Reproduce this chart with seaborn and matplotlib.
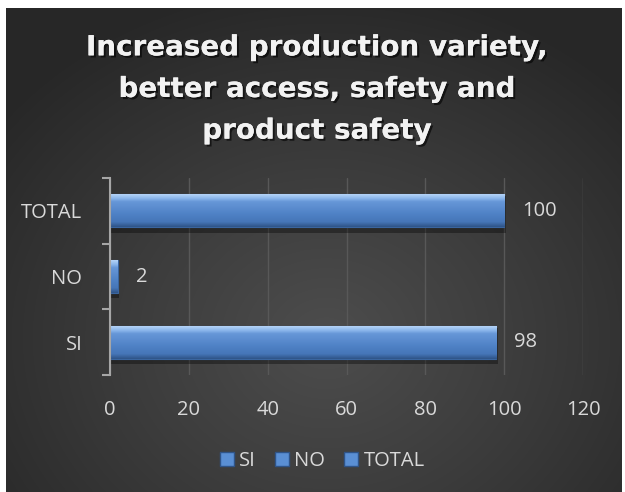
import numpy as np
import pandas as pd
import matplotlib
matplotlib.use("Agg")
import matplotlib.pyplot as plt
import matplotlib.patheffects as pe
from matplotlib.colors import LinearSegmentedColormap
import seaborn as sns

# Survey answers
categories = ["TOTAL", "NO", "SI"]        # top to bottom
legend_order = ["SI", "NO", "TOTAL"]
values = [100, 2, 98]
x_ticks = [0, 20, 40, 60, 80, 100, 120]
title = "Increased production variety,\nbetter access, safety and\nproduct safety"

df = pd.DataFrame({"respuesta": categories, "valor": values})

sns.set_theme(style="white")
plt.rcParams["font.family"] = ["Open Sans", "DejaVu Sans"]

W, H = 625, 492
fig = plt.figure(figsize=(W / 100, H / 100), dpi=100)
fig.patch.set_facecolor("white")

# Dark panel with a soft radial glow
bg = fig.add_axes([6 / W, 0, (622 - 6) / W, (492 - 8) / H])
bg.set_axis_off()
gy, gx = np.mgrid[0:484, 0:616]
cx, cy = 320, 330
r = np.sqrt(((gx - cx) / 420) ** 2 + ((gy - cy) / 360) ** 2)
r = np.clip(r, 0, 1)
bg_cmap = LinearSegmentedColormap.from_list("bg", ["#4d4d4d", "#3b3b3b", "#272727"])
bg.imshow(r, cmap=bg_cmap, vmin=0, vmax=1, aspect="auto", interpolation="bilinear")

# Plot area
ax = fig.add_axes([110 / W, 1 - 375 / H, (583 - 110) / W, (375 - 178) / H])
ax.set_facecolor("none")

bar_blue = "#4f81c9"
sns.barplot(data=df, y="respuesta", x="valor", hue="respuesta",
            order=categories, hue_order=legend_order,
            palette={c: bar_blue for c in categories},
            width=0.5, dodge=False, legend=True, ax=ax, zorder=3)

ax.set_xlim(0, 120)
ax.set_ylim(2.5, -0.5)
ax.set_xticks(x_ticks)
ax.set_xlabel("")
ax.set_ylabel("")
for s in ["top", "right", "bottom"]:
    ax.spines[s].set_visible(False)
ax.spines["left"].set_color("#a6a6a6")
ax.spines["left"].set_linewidth(1.5)
ax.spines["left"].set_zorder(5)
ax.grid(axis="x", color="#585858", linewidth=1.0, zorder=0)
ax.set_axisbelow(True)

ax.tick_params(axis="x", length=0, pad=18, labelsize=14.5, labelcolor="#d9d9d9")
ax.tick_params(axis="y", which="major", left=True, length=0, pad=20,
               labelsize=14.5, labelcolor="#d9d9d9")
ax.set_yticks(np.arange(-0.5, 3.0, 1.0), minor=True)
ax.tick_params(axis="y", which="minor", left=True, direction="out",
               length=6, width=1.5, color="#a6a6a6")

# Bevelled fill for each bar
bevel = LinearSegmentedColormap.from_list(
    "bevel",
    [(0.0, "#b4d3f7"), (0.12, "#8db8ec"), (0.22, "#6797d8"),
     (0.6, "#4f82c6"), (0.85, "#4676b8"), (1.0, "#2f5488")])
grad = np.linspace(0, 1, 64).reshape(-1, 1)
for bar in ax.patches:
    x0, y0 = bar.get_x(), bar.get_y()
    w, h = bar.get_width(), bar.get_height()
    if w <= 0:
        continue
    # soft shadow underneath
    ax.add_patch(plt.Rectangle((x0, y0 + 0.03), w + 0.4, h + 0.05,
                               facecolor="black", alpha=0.35,
                               edgecolor="none", zorder=2))
    im = ax.imshow(grad, cmap=bevel, aspect="auto",
                   extent=(x0, x0 + w, y0 + h, y0), zorder=4,
                   interpolation="bilinear")
    im.set_clip_path(bar)
    bar.set_edgecolor("#3a659f")
    bar.set_linewidth(0.8)

ax.set_xlim(0, 120)
ax.set_ylim(2.5, -0.5)

# Value labels
for cat, v in zip(categories, values):
    ax.text(v + 4.5, categories.index(cat), f"{v}", va="center", ha="left",
            fontsize=14.5, color="#d9d9d9", zorder=6)

# Legend along the bottom
leg = ax.legend(loc="center", bbox_to_anchor=(0.449, -0.435), ncol=3,
                frameon=False, handlelength=0.7, handleheight=0.7,
                handletextpad=0.25, columnspacing=0.95, fontsize=14.5)
for t in leg.get_texts():
    t.set_color("#d9d9d9")
for hnd in leg.legend_handles:
    hnd.set_facecolor("#5a8fd4")
    hnd.set_edgecolor("#2f5488")

# Title
fig.text(317 / W, 1 - 89 / H, title, ha="center", va="center",
         fontsize=20, fontweight="bold", color="#f2f2f2", linespacing=1.62,
         family=["DejaVu Sans"],
         path_effects=[pe.withSimplePatchShadow(offset=(1.5, -1.5),
                                                shadow_rgbFace="black", alpha=0.6),
                       pe.Normal()])

fig.savefig("out.png", dpi=100)
